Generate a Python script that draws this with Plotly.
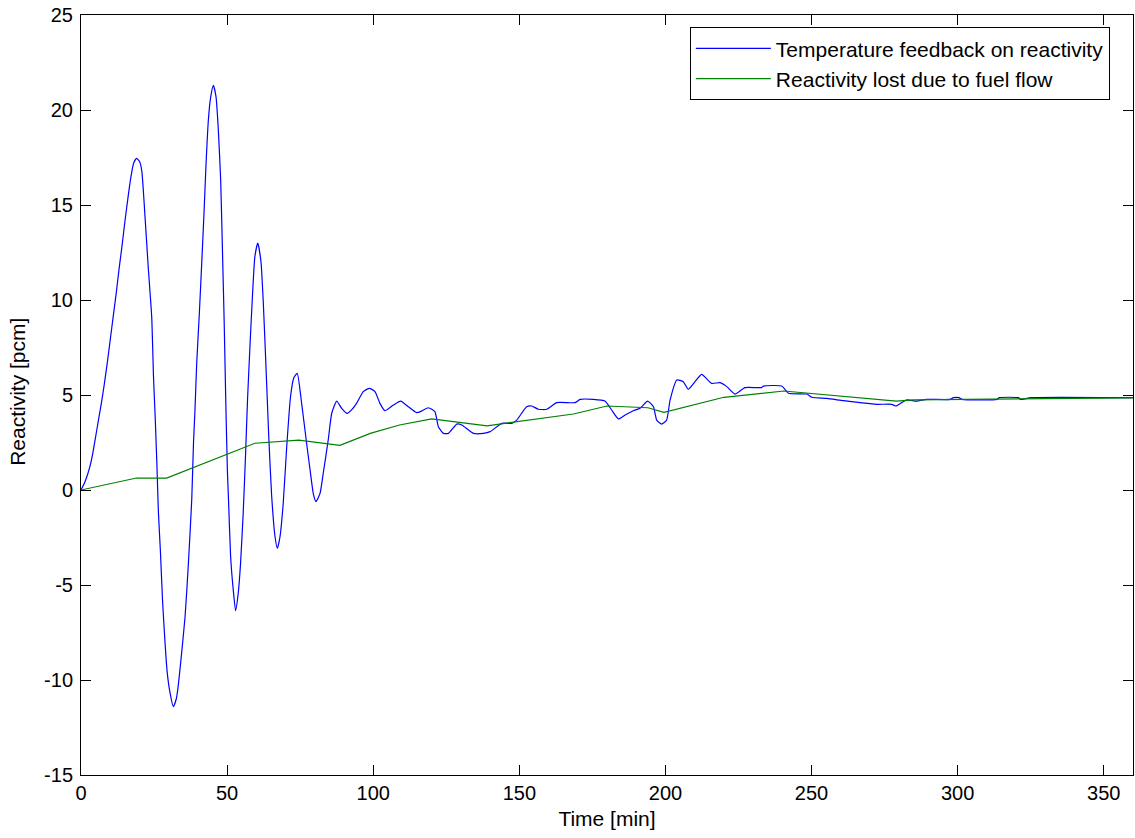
import plotly.graph_objects as go

# Temperature feedback on reactivity (blue)
t_temp = [0, 1, 2, 3, 4, 5, 6, 7, 8, 9, 10, 11, 12, 13, 14, 15, 16, 17, 18, 19, 20.0, 20.8,
          21.9, 23.0, 24.2, 24.8, 25.4, 26.0, 26.5, 27.2, 27.9, 28.7, 29.5, 30.5, 31.6, 32.6, 33.2, 34.1,
          35.6, 36.7, 37.9, 38.5, 39.0, 39.6, 40.5, 41.3, 42.1, 42.8, 43.6, 44.4, 45.3, 46.2, 47.0, 47.8,
          48.5, 49.0, 49.5, 50.1, 50.5, 51.2, 52.1, 52.9, 53.8, 54.6, 55.5, 56.3, 57.0, 57.8, 58.6, 59.5,
          60.5, 61.6, 62.4, 63.3, 64.2, 65.2, 66.4, 67.2, 68.1, 69.2, 70.4, 71.7, 72.8, 74.0, 75.5, 77.2,
          78.4, 79.5, 80.4, 81.8, 82.9, 84.6, 85.8, 87.5, 89.2, 91.1, 92.5, 94.3, 96.6, 98.7, 100.6, 102.3,
          104.0, 106.9, 109.4, 112.0, 114.9, 116.5, 118.9, 121.1, 122.3, 124.0, 125.7, 128.6, 130.3, 134.3,
          137.7, 140.0, 144.0, 147.4, 149.1, 152.5, 154.2, 156.5, 159.4, 162.8, 169.1, 170.8, 175.3, 179.3,
          181.6, 183.9, 186.2, 189.0, 191.3, 193.9, 195.9, 197.0, 198.7, 200.4, 201.6, 203.9, 206.1, 207.8,
          210.1, 212.4, 215.8, 218.7, 221.0, 223.8, 227.2, 232.9, 233.5, 239.8, 242.1, 248.4, 250.1, 255.2,
          260.9, 266.6, 272.3, 277.4, 278.9, 280.9, 282.6, 286.0, 289.4, 297.4, 298.5, 300.5, 301.5, 313.5,
          314.2, 320.8, 321.5, 325.1, 360]
v_temp = [0, 0.3, 0.7, 1.2, 1.9, 2.8, 3.7, 4.6, 5.6, 6.7, 7.9, 9.1, 10.3, 11.6, 12.8, 14.1, 15.3, 16.4, 17.2, 17.45, 17.3, 16.8,
          14.4, 11.75, 9.1, 6.0, 3.8, 1.2, -1.2, -3.3, -5.8, -7.9, -9.6, -10.7, -11.4, -11.0, -10.4, -9.1,
          -6.7, -4.0, -0.5, 2.5, 4.2, 6.67, 9.3, 11.9, 14.6, 17.2, 19.5, 20.7, 21.3, 20.7, 18.95, 16.3,
          12.0, 8.8, 5.0, 1.0, -0.6, -3.5, -5.26, -6.35, -5.44, -3.86, -1.23, 1.8, 4.8, 7.5, 10.0, 12.28,
          13.0, 12.0, 9.8, 6.5, 3.0, -0.2, -2.46, -3.07, -2.46, -0.7, 2.28, 4.91, 5.9, 6.14, 4.56, 2.46,
          1.05, -0.2, -0.61, -0.18, 0.88, 2.63, 4.04, 4.68, 4.3, 4.03, 4.2, 4.56, 5.18, 5.35, 5.18, 4.56,
          4.17, 4.47, 4.68, 4.38, 4.07, 4.15, 4.33, 4.12, 3.33, 2.98, 2.98, 3.47, 3.42, 2.98,
          2.98, 3.07, 3.51, 3.51, 3.68, 4.38, 4.42, 4.25, 4.25, 4.6, 4.6, 4.77, 4.77, 4.68,
          4.21, 3.74, 3.95, 4.17, 4.3, 4.68, 4.38, 3.68, 3.47, 3.68, 4.74, 5.79, 5.7, 5.3,
          5.7, 6.09, 5.61, 5.65, 5.44, 5.05, 5.39, 5.39, 5.47, 5.47, 5.09, 5.05, 4.88, 4.82,
          4.7, 4.6, 4.51, 4.51, 4.42, 4.6, 4.74, 4.68, 4.77, 4.77, 4.86, 4.86, 4.77, 4.77,
          4.86, 4.86, 4.77, 4.86, 4.86]

# Reactivity lost due to fuel flow (green)
t_fuel = [0, 19, 29.3, 59.5, 74.5, 88.6, 99, 109, 120, 139, 168.5, 180, 194, 199.5, 220, 240.5, 279, 285, 360]
v_fuel = [0, 0.63, 0.63, 2.46, 2.62, 2.35, 2.98, 3.42, 3.74, 3.38, 4.0, 4.42, 4.33, 4.09, 4.88, 5.21, 4.68, 4.74, 4.85]

x_ticks = [0, 50, 100, 150, 200, 250, 300, 350]
y_ticks = [-15, -10, -5, 0, 5, 10, 15, 20, 25]
y_tick_labels = ["-15", "-10", "-5", "0", "5", "10", "15", "20", "25"]

FONT = "Liberation Sans, Arial, sans-serif"

fig = go.Figure()
fig.add_trace(go.Scatter(x=t_temp, y=v_temp, mode="lines", name="Temperature feedback on reactivity",
                         line=dict(color="#0000ff", width=1.2, shape="spline", smoothing=0.5)))
fig.add_trace(go.Scatter(x=t_fuel, y=v_fuel, mode="lines", name="Reactivity lost due to fuel flow",
                         line=dict(color="#008000", width=1.2)))

axis_common = dict(showgrid=False, zeroline=False, showline=True, linecolor="black", linewidth=1,
                   mirror="ticks", ticks="inside", ticklen=10, tickcolor="black", tickwidth=1,
                   tickfont=dict(family=FONT, size=20, color="black"))

fig.update_layout(
    width=1135, height=838,
    margin=dict(l=81, r=2, t=15, b=63),
    paper_bgcolor="white", plot_bgcolor="white",
    font=dict(family=FONT, size=20, color="black"),
    xaxis=dict(range=[0, 360], tickvals=x_ticks,
               title=dict(text="Time [min]", font=dict(family=FONT, size=21), standoff=8),
               **axis_common),
    yaxis=dict(range=[-15, 25], tickvals=y_ticks, ticktext=y_tick_labels, ticklabelstandoff=3,
               **axis_common),
    legend=dict(x=0.978, y=0.984, xanchor="right", yanchor="top", bgcolor="white",
                bordercolor="black", borderwidth=1, font=dict(family=FONT, size=21),
                itemwidth=75, tracegroupgap=0),
    showlegend=True,
    annotations=[dict(text="Reactivity [pcm]", xref="paper", yref="paper", x=-0.06, y=0.504,
                      xanchor="center", yanchor="middle", textangle=-90, showarrow=False,
                      font=dict(family=FONT, size=21, color="black"))],
)

fig.write_html("out.html")
